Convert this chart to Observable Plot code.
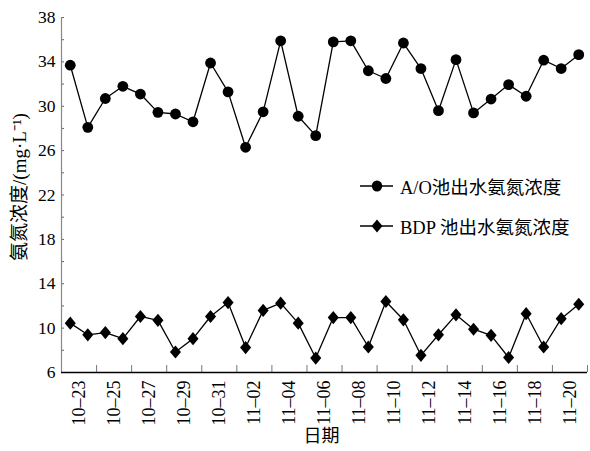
<!DOCTYPE html>
<html>
<head>
<meta charset="utf-8">
<script src="https://cdn.jsdelivr.net/npm/d3@7"></script>
<script src="https://cdn.jsdelivr.net/npm/@observablehq/plot@0.6"></script>
<style>
  body { margin: 0; background: #fff; }
  #wrap { position: relative; width: 590px; height: 451px; overflow: hidden; }
  .leg { position: absolute; left: 359px; height: 22px; display: flex; align-items: center;
         font-family: "Liberation Serif", "Noto Sans CJK SC", serif; font-size: 18.5px; color: #000; white-space: nowrap; }
  .leg svg { display: block; margin-right: 7px; }
</style>
</head>
<body>
<div id="wrap"><div id="chart"></div></div>
<script>
// ---- data ----
const dates = ["10-23","10-24","10-25","10-26","10-27","10-28","10-29","10-30","10-31","11-01",
               "11-02","11-03","11-04","11-05","11-06","11-07","11-08","11-09","11-10","11-11",
               "11-12","11-13","11-14","11-15","11-16","11-17","11-18","11-19","11-20","11-21"];
const aoValues = [33.7, 28.1, 30.7, 31.8, 31.1, 29.45, 29.3, 28.6, 33.9, 31.3,
                  26.3, 29.5, 35.9, 29.1, 27.35, 35.8, 35.9, 33.2, 32.5, 35.7,
                  33.4, 29.6, 34.2, 29.4, 30.65, 31.95, 30.9, 34.15, 33.4, 34.65];
const bdpValues = [10.45, 9.4, 9.6, 9.05, 11.05, 10.7, 7.85, 9.05, 11.05, 12.3,
                   8.25, 11.6, 12.25, 10.45, 7.3, 10.95, 10.95, 8.3, 12.4, 10.75,
                   7.55, 9.4, 11.2, 9.9, 9.35, 7.35, 11.3, 8.3, 10.85, 12.15];
const tickLabels = ["10–23","10–25","10–27","10–29","10–31","11–02","11–04","11–06",
                    "11–08","11–10","11–12","11–14","11–16","11–18","11–20"];
const yTicks = [6, 10, 14, 18, 22, 26, 30, 34, 38];
const seriesNames = ["A/O池出水氨氮浓度", "BDP 池出水氨氮浓度"];
const yTitle = "氨氮浓度/(mg·L⁻¹)";
const xTitle = "日期";

// ---- build tables ----
const ao = dates.map((d, i) => ({i: i + 0.5, date: d, value: aoValues[i]}));
const bdp = dates.map((d, i) => ({i: i + 0.5, date: d, value: bdpValues[i]}));
const minorY = d3.range(6, 39, 2);
const catTicks = d3.range(2, 31, 2);
const labelPos = tickLabels.map((_, k) => 2 * k + 1);

const diamond = {
  draw(ctx, size) {
    const h = Math.sqrt(size) * 0.6, w = h * 0.84;
    ctx.moveTo(0, -h); ctx.lineTo(w, 0); ctx.lineTo(0, h); ctx.lineTo(-w, 0); ctx.closePath();
  }
};

const font = "'Liberation Serif','Noto Sans CJK SC',serif";

const chart = Plot.plot({
  width: 590,
  height: 451,
  marginLeft: 61,
  marginRight: 3,
  marginTop: 17,
  marginBottom: 79,
  x: {domain: [0, 30]},
  y: {domain: [6, 38]},
  style: {fontFamily: font, fontSize: "17px", color: "#000", background: "#fff"},
  marks: [
    Plot.axisY({ticks: minorY, tickSize: -3, tickFormat: () => "", stroke: "#666", label: null}),
    Plot.axisY({ticks: yTicks, tickSize: 0, tickPadding: 6, label: null, fontSize: 17.5, fontFamily: font, fill: "#000"}),
    Plot.axisX({ticks: catTicks, tickSize: -7, tickFormat: () => "", stroke: "#777", label: null}),
    Plot.axisX({ticks: labelPos, tickSize: 0, tickPadding: 8, tickRotate: -90,
                tickFormat: v => tickLabels[(v - 1) / 2], label: null, fontSize: 18, fontFamily: font, fill: "#000"}),
    Plot.ruleX([0], {stroke: "#888", strokeWidth: 1.2}),
    Plot.ruleY([6], {stroke: "#000", strokeWidth: 1.5}),
    Plot.line(ao, {x: "i", y: "value", stroke: "#000", strokeWidth: 1.3}),
    Plot.dot(ao, {x: "i", y: "value", r: 5.4, fill: "#000", stroke: null}),
    Plot.line(bdp, {x: "i", y: "value", stroke: "#000", strokeWidth: 1.3}),
    Plot.dot(bdp, {x: "i", y: "value", r: 6.2, symbol: diamond, fill: "#000", stroke: null}),
    Plot.text([yTitle], {frameAnchor: "left", textAnchor: "middle", rotate: -90, dx: -42, dy: -8,
                         fontSize: 19, fontFamily: font, fill: "#000"}),
    Plot.text([xTitle], {frameAnchor: "bottom", dx: -3, dy: 69, fontSize: 18, fontFamily: font, fill: "#000"})
  ]
});
document.getElementById("chart").appendChild(chart);

// ---- legend ----
const wrap = document.getElementById("wrap");
const legTops = [175, 215];
seriesNames.forEach((name, k) => {
  const row = document.createElement("div");
  row.className = "leg";
  row.style.top = legTops[k] + "px";
  const marker = k === 0
    ? '<ellipse cx="18" cy="11" rx="5.2" ry="5.5" fill="#000"/>'
    : '<path d="M18,4.4 L23.5,11 L18,17.6 L12.5,11 Z" fill="#000"/>';
  row.innerHTML = `<svg width="34" height="22"><line x1="1" x2="34" y1="11" y2="11" stroke="#000" stroke-width="1.3"/>${marker}</svg><span>${name}</span>`;
  wrap.appendChild(row);
});
</script>
</body>
</html>
